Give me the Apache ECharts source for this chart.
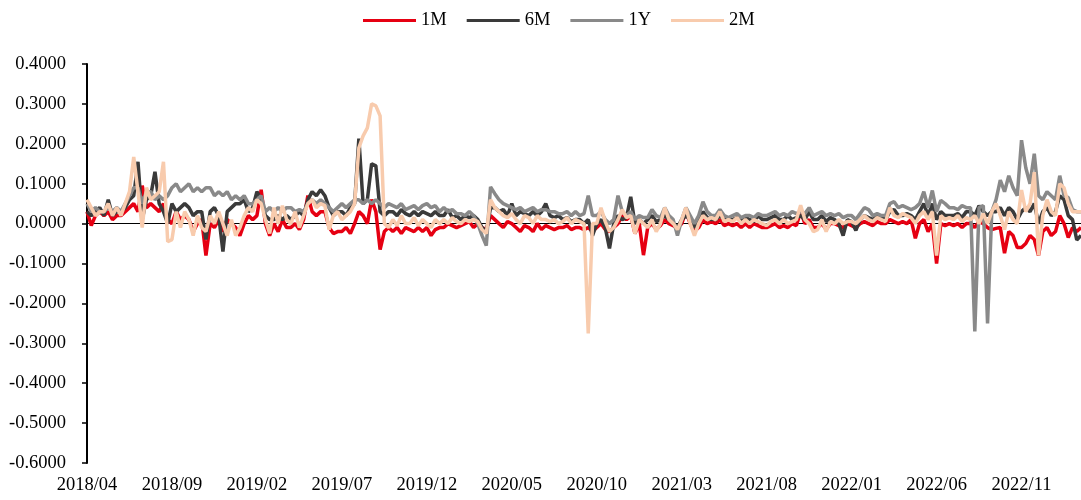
<!DOCTYPE html>
<html>
<head>
<meta charset="utf-8">
<script src="https://cdn.jsdelivr.net/npm/echarts@6/dist/echarts.min.js"></script>
<style>
html, body { margin: 0; padding: 0; background: #fff; }
#spreadChart { width: 1081px; height: 500px; }
</style>
</head>
<body>
<div id="spreadChart"></div>
<script>
// sampled 4 points per month, 2018/04 .. 2023/02
const startYear = 2018
const startMonth = 4
const pointsPerMonth = 4
const seriesNames = ['1M', '6M', '1Y', '2M']

const rate1M = [
    0.03, -0.005, 0.02, 0.03,  0.02, 0.03, 0.01, 0.02,  0.02, 0.03, 0.04, 0.05,  0.03, 0.095, 0.04, 0.05,
    0.04, 0.03, 0.05, 0.01,  0.0, 0.03, 0.01, 0.02,  0.01, -0.02, 0.0, 0.01,  -0.08, 0.0, -0.01, 0.01,
    -0.02, 0.01, 0.0, -0.01,  -0.03, 0.0, 0.02, 0.01,  0.02, 0.085, 0.0, -0.03,  0.0, -0.02, 0.01, -0.01,
    -0.01, 0.0, -0.015, 0.01,  0.07, 0.03, 0.02, 0.03,  0.03, -0.01, -0.025, -0.02,  -0.02, -0.01, -0.025, 0.0,
    0.03, 0.02, 0.0, 0.06,  0.03, -0.065, -0.02, -0.01,  -0.02, -0.01, -0.025, -0.01,  -0.015, -0.02, -0.01, -0.02,
    -0.01, -0.03, -0.015, -0.01,  -0.01, 0.0, -0.005, -0.01,  -0.005, 0.0, 0.005, -0.01,  0.0, -0.01, -0.015, 0.02,
    0.01, 0.0, -0.01, 0.005,  0.0, -0.01, -0.02, -0.005,  -0.01, -0.02, 0.0, -0.015,  -0.005, -0.01, -0.015, -0.01,
    -0.01, -0.005, -0.015, -0.01,  -0.01, -0.015, -0.01, -0.02,  -0.01, 0.0, -0.015, -0.02,  -0.01, 0.0, 0.02, 0.01,
    0.02, -0.025, 0.0, -0.079,  -0.01, 0.0, -0.015, -0.005,  0.01, 0.0, -0.005, -0.01,  0.0, 0.03, 0.0, -0.02,
    -0.01, 0.01, 0.0, 0.005,  0.0, 0.01, -0.005, 0.0,  -0.005, 0.0, -0.01, 0.0,  -0.01, 0.0, -0.005, -0.01,
    -0.01, -0.005, 0.0, -0.01,  -0.005, -0.01, 0.0, -0.005,  0.03, 0.0, 0.01, -0.01,  -0.01, 0.0, -0.015, 0.0,
    0.0, -0.005, -0.01, 0.0,  -0.005, -0.01, 0.0, 0.005,  0.0, -0.005, 0.005, 0.0,  0.0, 0.01, 0.005, 0.0,
    0.005, 0.0, 0.01, -0.037,  0.0, 0.01, -0.02, 0.0,  -0.1, 0.0, -0.005, 0.0,  -0.005, 0.0, -0.01, 0.0,
    0.0, -0.01, 0.005, 0.0,  -0.01, -0.015, -0.012, -0.01,  -0.074, -0.02, -0.03, -0.06,  -0.06, -0.05, -0.03, -0.04,
    -0.08, -0.02, -0.01, -0.03,  -0.02, 0.02, 0.0, -0.035,  -0.01, -0.02, -0.01
]

const rate6M = [
    0.03, 0.02, 0.03, 0.04,  0.02, 0.06, 0.02, 0.03,  0.03, 0.04, 0.06, 0.07,  0.155, 0.01, 0.06, 0.07,
    0.13, 0.05, 0.03, 0.0,  0.05, 0.03, 0.04, 0.05,  0.04, 0.02, 0.03, 0.03,  -0.04, 0.03, 0.04, 0.02,
    -0.07, 0.03, 0.04, 0.05,  0.05, 0.06, 0.03, 0.04,  0.08, 0.06, 0.02, 0.01,  0.01, 0.02, 0.01, 0.02,
    0.01, 0.02, 0.03, 0.02,  0.06, 0.08, 0.07, 0.085,  0.07, 0.04, 0.02, 0.03,  0.03, 0.02, 0.04, 0.05,
    0.213, 0.05, 0.06, 0.15,  0.145, 0.03, 0.02, 0.03,  0.03, 0.02, 0.035, 0.025,  0.02, 0.03, 0.02, 0.03,
    0.025, 0.02, 0.03, 0.02,  0.02, 0.035, 0.015, 0.02,  0.01, 0.02, 0.015, 0.02,  0.01, -0.01, -0.02, 0.04,
    0.04, 0.03, 0.035, 0.02,  0.05, 0.02, 0.03, 0.025,  0.02, 0.03, 0.02, 0.03,  0.05, 0.02, 0.015, 0.02,
    0.01, 0.015, 0.005, 0.01,  0.01, 0.0, 0.01, -0.03,  0.0, 0.01, -0.01, -0.062,  0.0, 0.02, 0.01, 0.015,
    0.067, 0.0, 0.01, 0.0,  0.01, 0.02, 0.005, 0.01,  0.02, 0.01, 0.0, -0.01,  0.01, 0.02, 0.01, -0.01,
    0.005, 0.03, 0.015, 0.01,  0.01, 0.02, 0.01, 0.01,  0.01, 0.015, 0.01, 0.015,  0.01, 0.005, 0.02, 0.01,
    0.01, 0.015, 0.02, 0.01,  0.01, 0.02, 0.01, 0.015,  0.02, 0.01, 0.03, 0.01,  0.01, 0.02, 0.005, 0.015,
    0.01, 0.0, -0.03, 0.01,  0.005, -0.017, 0.01, 0.02,  0.015, 0.01, 0.02, 0.015,  0.01, 0.03, 0.035, 0.02,
    0.02, 0.025, 0.02, 0.01,  0.03, 0.05, 0.02, 0.05,  0.01, 0.03, 0.02, 0.02,  0.02, 0.025, 0.015, 0.03,
    0.03, 0.02, 0.045, 0.03,  0.02, 0.03, 0.03, 0.04,  0.02, 0.04, 0.03, 0.01,  0.03, 0.04, 0.03, 0.05,
    0.0, 0.03, 0.04, 0.02,  0.03, 0.07, 0.06, 0.02,  0.01, -0.041, -0.03
]

const rate1Y = [
    0.05, 0.03, 0.04, 0.03,  0.03, 0.04, 0.03, 0.04,  0.03, 0.05, 0.07, 0.09,  0.09, 0.05, 0.08, 0.08,
    0.06, 0.07, 0.06, 0.07,  0.09, 0.1, 0.08, 0.09,  0.1, 0.08, 0.09, 0.08,  0.09, 0.09, 0.07, 0.08,
    0.07, 0.08, 0.06, 0.07,  0.06, 0.07, 0.05, 0.05,  0.06, 0.07, 0.03, 0.04,  0.03, 0.04, 0.03, 0.04,
    0.04, 0.03, 0.035, 0.03,  0.05, 0.06, 0.05, 0.06,  0.05, 0.04, 0.03, 0.04,  0.05, 0.04, 0.05, 0.06,
    0.06, 0.05, 0.06, 0.05,  0.06, 0.05, 0.04, 0.05,  0.045, 0.04, 0.05, 0.035,  0.04, 0.045, 0.035, 0.045,
    0.05, 0.04, 0.045, 0.03,  0.04, 0.03, 0.035, 0.025,  0.025, 0.02, 0.03, 0.02,  0.0, -0.03, -0.055, 0.092,
    0.075, 0.06, 0.05, 0.045,  0.04, 0.035, 0.04, 0.03,  0.035, 0.04, 0.03, 0.035,  0.035, 0.03, 0.03, 0.025,
    0.025, 0.03, 0.02, 0.03,  0.02, 0.025, 0.07, 0.02,  0.02, 0.03, 0.01, 0.0,  0.01, 0.07, 0.03, 0.02,
    0.03, 0.01, 0.02, 0.015,  0.015, 0.035, 0.02, 0.015,  0.04, 0.02, 0.01, -0.03,  0.01, 0.04, 0.02, 0.0,
    0.02, 0.055, 0.03, 0.02,  0.02, 0.035, 0.02, 0.015,  0.02, 0.025, 0.015, 0.02,  0.02, 0.015, 0.025, 0.02,
    0.02, 0.025, 0.03, 0.02,  0.025, 0.02, 0.03, 0.025,  0.03, 0.025, 0.04, 0.02,  0.025, 0.03, 0.02, 0.025,
    0.02, 0.025, 0.015, 0.02,  0.02, 0.01, 0.025, 0.04,  0.035, 0.02, 0.025, 0.02,  0.02, 0.05, 0.055, 0.04,
    0.045, 0.04, 0.035, 0.04,  0.05, 0.08, 0.04, 0.083,  0.03, 0.058, 0.05, 0.04,  0.04, 0.035, 0.045, 0.04,
    0.04, -0.27, 0.04, 0.045,  -0.25, 0.03, 0.06, 0.109,  0.08, 0.12, 0.09, 0.07,  0.209, 0.14, 0.1, 0.175,
    0.07, 0.06, 0.08, 0.07,  0.06, 0.12, 0.07, 0.065,  0.035, 0.03, 0.03
]

const rate2M = [
    0.06, 0.04, 0.02, 0.03,  0.03, 0.05, 0.02, 0.04,  0.02, 0.05, 0.08, 0.167,  0.08, -0.01, 0.09, 0.06,
    0.07, 0.08, 0.155, -0.045,  -0.04, 0.03, -0.01, 0.03,  0.01, -0.03, 0.02, -0.01,  -0.02, 0.02, 0.0, 0.03,
    0.0, -0.03, 0.01, -0.03,  -0.01, 0.02, 0.04, 0.03,  0.06, 0.05, 0.01, -0.025,  0.04, 0.0, 0.045, 0.01,
    0.0, 0.03, -0.01, 0.02,  0.05, 0.06, 0.04, 0.05,  0.045, -0.015, 0.02, 0.03,  0.01, 0.02, 0.03, 0.05,
    0.19, 0.22, 0.24, 0.3,  0.295, 0.27, 0.0, -0.01,  0.01, -0.005, 0.02, 0.0,  0.0, 0.015, -0.005, 0.01,
    0.0, -0.01, 0.01, 0.0,  0.01, 0.0, 0.015, 0.005,  0.0, 0.01, 0.005, 0.01,  0.005, -0.015, -0.025, 0.06,
    0.04, 0.03, 0.02, 0.015,  0.025, 0.01, 0.0, 0.02,  0.015, 0.0, 0.02, 0.01,  0.01, 0.005, 0.01, 0.0,
    0.005, 0.015, 0.0, 0.01,  0.005, 0.0, -0.275, 0.0,  0.0, 0.04, 0.005, -0.02,  -0.01, 0.01, 0.035, 0.015,
    0.02, -0.025, 0.01, 0.0,  -0.01, 0.01, -0.02, 0.0,  0.04, 0.01, 0.0, -0.015,  0.01, 0.04, 0.0, -0.03,
    0.0, 0.02, 0.01, 0.015,  0.01, 0.03, 0.005, 0.01,  0.005, 0.015, 0.0, 0.01,  0.0, 0.01, 0.005, 0.0,
    -0.005, 0.005, 0.01, 0.0,  0.01, 0.0, 0.005, 0.01,  0.046, 0.01, 0.0, -0.02,  -0.015, 0.01, -0.02, 0.005,
    0.0, 0.01, 0.0, 0.005,  0.005, 0.0, 0.01, 0.02,  0.01, 0.005, 0.015, 0.01,  0.005, 0.04, 0.02, 0.015,
    0.025, 0.02, 0.015, 0.0,  0.02, 0.03, 0.01, 0.03,  -0.08, 0.02, 0.01, 0.015,  0.01, 0.02, 0.005, 0.015,
    0.01, 0.02, 0.0, 0.025,  0.0, 0.03, 0.05, 0.02,  -0.015, 0.03, 0.01, 0.0,  0.084, 0.03, 0.05, 0.129,
    -0.08, 0.02, 0.06, 0.03,  0.02, 0.1, 0.09, 0.05,  0.03, 0.03, 0.03
]

const seriesData = [rate1M, rate6M, rate1Y, rate2M]
const seriesColors = ['#E60012', '#3A3A3A', '#898989', '#F8CBAD']

// category per sample, label shows year/month
const categories = rate1M.map((_, i) => {
    const m = startMonth - 1 + Math.floor(i / pointsPerMonth)
    const y = startYear + Math.floor(m / 12)
    const mm = String(m % 12 + 1).padStart(2, '0')
    return y + '/' + mm + '-' + (i % pointsPerMonth + 1)
})

const fontFamily = '"Times New Roman", "Liberation Serif", serif'

const myChart = echarts.init(document.getElementById('spreadChart'))
const option = {
    animation: false,
    legend: {
        data: seriesNames,
        left: 358,
        top: 6,
        icon: 'rect',
        itemWidth: 53,
        itemHeight: 3,
        itemGap: 20,
        textStyle: { fontFamily, fontSize: 18.5, color: '#000' }
    },
    grid: { left: 87, right: 0, top: 64, bottom: 37 },
    xAxis: [
        {
            type: 'category',
            data: categories,
            boundaryGap: false,
            axisLine: { show: false, onZero: false },
            axisTick: { show: false },
            axisLabel: {
                interval: 19,
                margin: 13,
                fontFamily,
                fontSize: 18.5,
                color: '#000',
                formatter: v => v.slice(0, 7)
            }
        },
        {
            // zero line
            type: 'category',
            data: categories,
            boundaryGap: false,
            position: 'bottom',
            axisLine: { show: true, onZero: true, lineStyle: { color: '#000', width: 1.2 } },
            axisTick: { show: false },
            axisLabel: { show: false },
            splitLine: { show: false }
        }
    ],
    yAxis: {
        type: 'value',
        min: -0.6,
        max: 0.4,
        interval: 0.1,
        splitLine: { show: false },
        axisLine: { show: true, lineStyle: { color: '#000', width: 2 } },
        axisTick: { show: true, length: 5, lineStyle: { color: '#000', width: 1.5 } },
        axisLabel: {
            margin: 21,
            fontFamily,
            fontSize: 18.5,
            color: '#000',
            formatter: v => (Math.abs(v) < 1e-9 ? 0 : v).toFixed(4)
        }
    },
    series: seriesNames.map((name, k) => ({
        name,
        type: 'line',
        data: seriesData[k],
        showSymbol: false,
        symbol: 'none',
        color: seriesColors[k],
        lineStyle: { width: 3.5, color: seriesColors[k] }
    }))
}
myChart.setOption(option)
</script>
</body>
</html>
